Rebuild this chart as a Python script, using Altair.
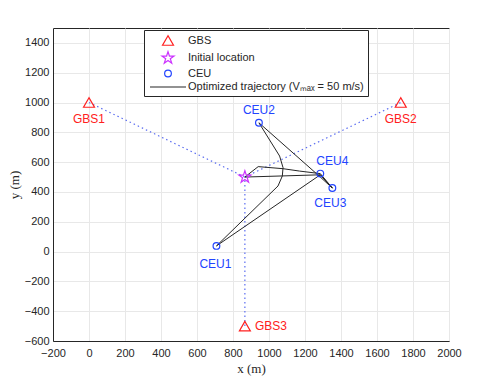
import altair as alt
import pandas as pd

# ---- data ----
gbs_names = ["GBS1", "GBS2", "GBS3"]
gbs_x = [0, 1732, 866]
gbs_y = [1000, 1000, -500]

init_x = [866]
init_y = [500]

ceu_names = ["CEU1", "CEU2", "CEU3", "CEU4"]
ceu_x = [708, 944, 1352, 1285]
ceu_y = [38, 864, 426, 523]

traj_x = [866, 1285, 1352, 1285, 944, 1059, 1078, 1074, 1050, 708, 1285, 1352, 1285, 1170, 1078, 940, 866]
traj_y = [500, 515, 426, 500, 864, 641, 563, 507, 440, 38, 515, 426, 523, 540, 556, 570, 500]

K_GBS = "GBS"
K_INIT = "Initial location"
K_CEU = "CEU"
K_TRAJ = "Optimized trajectory (Vₘₐₓ = 50 m/s)"

star = ("M0,-1L0.225,-0.309L0.951,-0.309L0.363,0.118L0.588,0.809L0,0.382"
        "L-0.588,0.809L-0.363,0.118L-0.951,-0.309L-0.225,-0.309Z")
long_line = "M-3.6,0L3.6,0"

domain = [K_GBS, K_INIT, K_CEU, K_TRAJ]
colors = ["#ff2020", "#cc33ff", "#2244ff", "#262626"]
shapes = ["triangle-up", star, "circle", long_line]
sizes = [120, 160, 45, 100]

pts = pd.DataFrame(
    {"x": gbs_x + init_x + ceu_x,
     "y": gbs_y + init_y + ceu_y,
     "kind": [K_GBS] * 3 + [K_INIT] + [K_CEU] * 4}
)
traj = pd.DataFrame({"x": traj_x, "y": traj_y, "i": list(range(len(traj_x))),
                     "kind": [K_TRAJ] * len(traj_x)})

links = []
for j, (gx, gy) in enumerate(zip(gbs_x, gbs_y)):
    links.append({"x": gx, "y": gy, "seg": j})
    links.append({"x": init_x[0], "y": init_y[0], "seg": j})
links = pd.DataFrame(links)

gbs_lab = pd.DataFrame({"x": gbs_x, "y": gbs_y, "t": gbs_names})
ceu_lab = pd.DataFrame({"x": ceu_x, "y": ceu_y, "t": ceu_names})

xs = alt.Scale(domain=[-200, 2000], nice=False, zero=False)
ys = alt.Scale(domain=[-600, 1500], nice=False, zero=False)

X = alt.X("x:Q", scale=xs, title="x (m)",
          axis=alt.Axis(values=list(range(-200, 2001, 200)), format="d"))
Y = alt.Y("y:Q", scale=ys, title="y (m)",
          axis=alt.Axis(values=list(range(-600, 1401, 200)), format="d"))

legend = alt.Legend(title=None, orient="none", legendX=91, legendY=2,
                    strokeColor="#262626", fillColor="white", padding=4,
                    symbolOffset=13, labelOffset=13, rowPadding=1,
                    labelFont="Liberation Sans", labelFontSize=11,
                    labelColor="#262626", symbolStrokeWidth=1.2,
                    symbolFillColor="transparent", labelLimit=300)

color = alt.Color("kind:N", scale=alt.Scale(domain=domain, range=colors), legend=legend)
shape = alt.Shape("kind:N", scale=alt.Scale(domain=domain, range=shapes), legend=legend)
size = alt.Size("kind:N", scale=alt.Scale(type="ordinal", domain=domain, range=sizes), legend=legend)

link_layer = alt.Chart(links).mark_line(
    color="#5a6cf0", strokeDash=[1.5, 3], strokeWidth=1.2
).encode(x=X, y=Y, detail="seg:N")

traj_layer = alt.Chart(traj).mark_line(strokeWidth=1).encode(
    x=X, y=Y, order="i:Q", color=color
)

pt_layer = alt.Chart(pts).mark_point(filled=False, strokeWidth=1.2, opacity=1).encode(
    x=X, y=Y, color=color, shape=shape, size=size
)

base_txt = dict(font="Liberation Sans", fontSize=12)
g12 = alt.Chart(gbs_lab.iloc[:2]).mark_text(color="#ff2020", dy=16, **base_txt).encode(
    x=X, y=Y, text="t:N")
g3 = alt.Chart(gbs_lab.iloc[2:]).mark_text(color="#ff2020", align="left", dx=10, **base_txt).encode(
    x=X, y=Y, text="t:N")
c_below = alt.Chart(ceu_lab.iloc[[0]]).mark_text(color="#2244ff", dy=18, dx=-1, **base_txt).encode(
    x=X, y=Y, text="t:N")
c2 = alt.Chart(ceu_lab.iloc[[1]]).mark_text(color="#2244ff", dy=-13, **base_txt).encode(
    x=X, y=Y, text="t:N")
c3 = alt.Chart(ceu_lab.iloc[[2]]).mark_text(color="#2244ff", dy=15, dx=-2, **base_txt).encode(
    x=X, y=Y, text="t:N")
c4 = alt.Chart(ceu_lab.iloc[[3]]).mark_text(color="#2244ff", dy=-13, dx=12, **base_txt).encode(
    x=X, y=Y, text="t:N")

chart = alt.layer(link_layer, traj_layer, pt_layer, g12, g3, c_below, c2, c3, c4).properties(
    width=396, height=313,
    autosize=alt.AutoSizeParams(type="none"),
    padding={"left": 45, "top": 20, "right": 40, "bottom": 40},
).configure_view(stroke="#262626", strokeWidth=1).configure_axis(
    labelFont="Liberation Sans", labelFontSize=11, labelColor="#262626",
    titleFont="Liberation Serif", titleFontSize=13, titleFontWeight="normal",
    titleColor="#262626", domainColor="#262626", gridColor="#e8e8e8",
    ticks=False, labelPadding=4, labelOverlap=False, labelFlush=False,
).configure_axisX(titlePadding=4, labelPadding=6).configure_axisY(titlePadding=3)

chart.save("out.html", embed_options={"renderer": "svg", "actions": False})
